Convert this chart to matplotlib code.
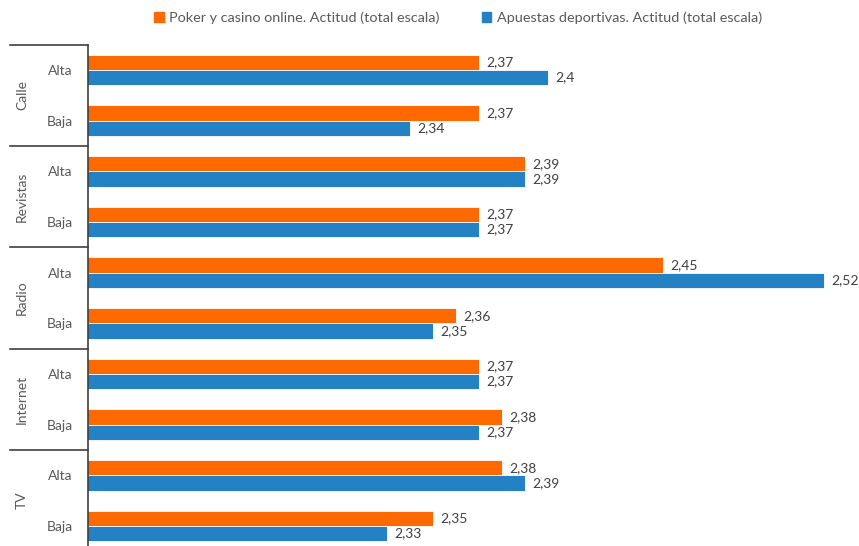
import matplotlib.pyplot as plt
import matplotlib.transforms as mtransforms
from matplotlib.patches import Patch

plt.rcParams['font.family'] = ['Lato', 'DejaVu Sans']

groups = ['Calle', 'Revistas', 'Radio', 'Internet', 'TV']
levels = ['Alta', 'Baja']
poker = [2.37, 2.37, 2.39, 2.37, 2.45, 2.36, 2.37, 2.38, 2.38, 2.35]
apuestas = [2.40, 2.34, 2.39, 2.37, 2.52, 2.35, 2.37, 2.37, 2.39, 2.33]
series_names = ['Poker y casino online. Actitud (total escala)',
                'Apuestas deportivas. Actitud (total escala)']

ORANGE = '#FF6A00'
BLUE = '#2481C3'
GREY = '#595959'


def fmt(v):
    s = ('%.2f' % v).rstrip('0').rstrip('.')
    return s.replace('.', ',')


fig = plt.figure(figsize=(8.59, 5.46), dpi=100)
ax = fig.add_axes([88 / 859, 1 - 551.3 / 546, 771 / 859, 506.6 / 546])

n = len(poker)
ys = list(range(n))
h = 0.3
ax.barh([y - h / 2 for y in ys], poker, height=h, left=0, color=ORANGE,
        edgecolor='white', linewidth=0.6)
ax.barh([y + h / 2 for y in ys], apuestas, height=h, left=0, color=BLUE,
        edgecolor='white', linewidth=0.6)

for y, v in zip(ys, poker):
    ax.text(v + 0.003, y - h / 2, fmt(v), va='center', ha='left',
            fontsize=10, color='#404040')
for y, v in zip(ys, apuestas):
    ax.text(v + 0.003, y + h / 2, fmt(v), va='center', ha='left',
            fontsize=10, color='#404040')

ax.set_xlim(2.2, 2.535)
ax.set_ylim(n - 0.5, -0.5)
ax.set_xticks([])
ax.set_yticks(ys)
ax.set_yticklabels(levels * len(groups), fontsize=10, color=GREY)
ax.tick_params(axis='y', length=0, pad=11)

for s in ['top', 'right', 'bottom']:
    ax.spines[s].set_visible(False)
ax.spines['left'].set_color('#404040')
ax.spines['left'].set_linewidth(1.2)

# group separators and outer category labels
trans = mtransforms.blended_transform_factory(ax.transAxes, ax.transData)
x0 = (10 - 88) / 771
for i, g in enumerate(groups):
    top = 2 * i - 0.5
    ax.plot([x0, 0], [top, top], color='#404040', lw=1.2,
            transform=trans, clip_on=False)
    ax.text((22 - 88) / 771, 2 * i + 0.5, g, rotation=90, ha='center',
            va='center', fontsize=10, color=GREY, transform=trans)
ax.plot([x0, 0], [n - 0.5, n - 0.5], color='#404040', lw=1.2,
        transform=trans, clip_on=False)

handles = [Patch(color=ORANGE), Patch(color=BLUE)]
fig.legend(handles, series_names, loc='center', ncol=2,
           bbox_to_anchor=(458 / 859, 1 - 18 / 546), frameon=False,
           fontsize=10.4, labelcolor=GREY, handlelength=0.65,
           handleheight=0.65, handletextpad=0.4, columnspacing=2.9)

fig.savefig('out.png', dpi=100)
